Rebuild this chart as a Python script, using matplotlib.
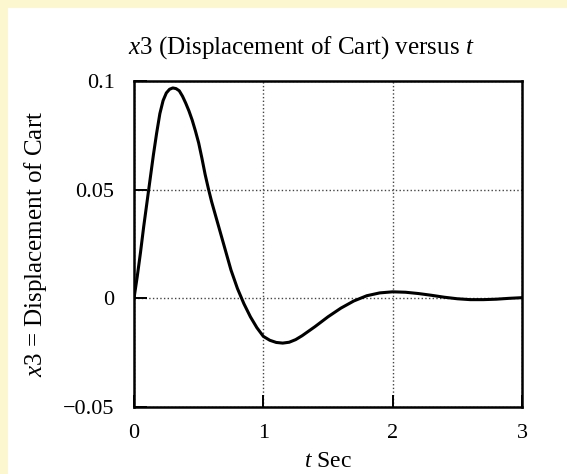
import matplotlib
matplotlib.use("Agg")
import matplotlib.pyplot as plt
from matplotlib.patches import Rectangle

plt.rcParams["font.family"] = "Liberation Serif"
plt.rcParams["mathtext.fontset"] = "custom"
plt.rcParams["mathtext.rm"] = "Liberation Serif"
plt.rcParams["mathtext.it"] = "Liberation Serif:italic"

# values
t_sec = [0.0, 0.025, 0.05, 0.075, 0.10, 0.125, 0.15, 0.175, 0.20, 0.225,
         0.25, 0.275, 0.30, 0.325, 0.35, 0.375, 0.40, 0.425, 0.45, 0.475,
         0.50, 0.525, 0.55, 0.575, 0.60, 0.65, 0.70, 0.75, 0.80, 0.85,
         0.90, 0.95, 1.00, 1.05, 1.10, 1.15, 1.20, 1.25, 1.30, 1.40,
         1.50, 1.60, 1.70, 1.80, 1.90, 2.00, 2.10, 2.20, 2.30, 2.40,
         2.50, 2.60, 2.70, 2.80, 2.90, 3.00]
x3 = [0.0, 0.010, 0.021, 0.033, 0.044, 0.055, 0.066, 0.076, 0.085, 0.091,
      0.0945, 0.0962, 0.0968, 0.0965, 0.0955, 0.093, 0.0898, 0.0862, 0.082, 0.077,
      0.0715, 0.0645, 0.057, 0.0505, 0.0445, 0.034, 0.0235, 0.013, 0.0045, -0.0025,
      -0.0085, -0.0135, -0.0175, -0.0193, -0.0203, -0.0206, -0.0202, -0.019, -0.0172, -0.013,
      -0.0085, -0.0045, -0.0012, 0.0012, 0.0025, 0.0030, 0.0028, 0.0022, 0.0014, 0.0005,
      -0.0002, -0.0006, -0.0006, -0.0004, 0.0, 0.0003]

x_ticks = [0, 1, 2, 3]
x_tick_labels = ["0", "1", "2", "3"]
y_ticks = [-0.05, 0, 0.05, 0.1]
y_tick_labels = ["\u22120.05", "0", "0.05", "0.1"]

fig = plt.figure(figsize=(5.67, 4.74), dpi=100)
fig.patch.set_facecolor("white")

# yellow border strips on top and left
fig.patches.append(Rectangle((0, 0), 8 / 567, 1, transform=fig.transFigure,
                             facecolor="#fdf7cf", edgecolor="none"))
fig.patches.append(Rectangle((0, 1 - 8 / 474), 1, 8 / 474, transform=fig.transFigure,
                             facecolor="#fdf7cf", edgecolor="none"))

ax = fig.add_axes([134 / 567, 67 / 474, 388 / 567, 326 / 474])
ax.plot(t_sec, x3, color="black", linewidth=2.2)

ax.set_xlim(0, 3)
ax.set_ylim(-0.05, 0.1)
ax.set_xticks(x_ticks)
ax.set_xticklabels(x_tick_labels)
ax.set_yticks(y_ticks)
ax.set_yticklabels(y_tick_labels)
ax.tick_params(direction="in", length=9, width=1.4, labelsize=16, colors="black")
ax.tick_params(axis="y", pad=14)
ax.tick_params(axis="x", pad=12)

ax.grid(True, linestyle=":", color="#444444", linewidth=1.0)
for s in ax.spines.values():
    s.set_linewidth(1.8)

ax.set_title(r"$\it{x}$3 (Displacement of Cart) versus $\it{t}$", fontsize=18, pad=20, x=0.43)
ax.set_xlabel(r"$\it{t}$ Sec", fontsize=17, labelpad=6)
ax.set_ylabel(r"$\it{x}$3 = Displacement of Cart", fontsize=18, labelpad=10)

fig.savefig("out.png", dpi=100)
